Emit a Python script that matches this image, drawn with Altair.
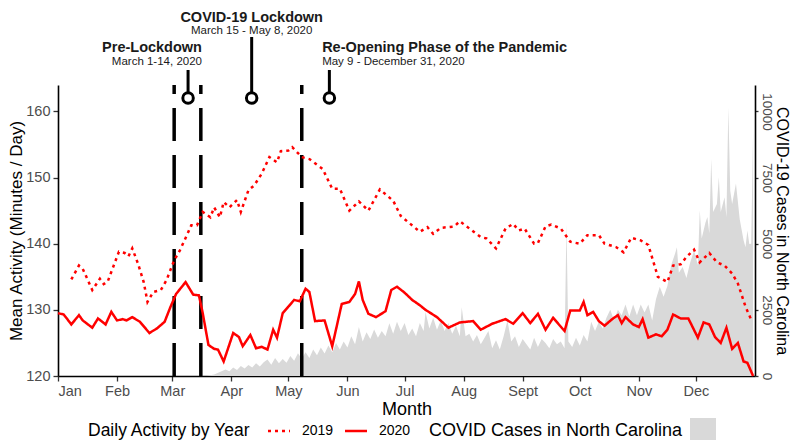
import altair as alt
import pandas as pd

# ---------------- data ----------------
months = ["Jan", "Feb", "Mar", "Apr", "May", "Jun", "Jul", "Aug", "Sept", "Oct", "Nov", "Dec"]
month_start_day = [0, 31, 60, 91, 121, 152, 182, 213, 244, 274, 305, 335]

# 2020 mean activity (day of year, minutes/day)
act_2020 = [(0, 129.5), (3, 129.3), (7, 127.8), (11, 129.2), (13, 128.4), (18, 127.3), (21, 128.7),
            (25, 127.8), (28, 129.7), (31, 128.4), (34, 128.6), (36, 128.4), (39, 128.9), (43, 128.2),
            (48, 126.5), (52, 127.2), (56, 128.2), (59, 130.4), (62, 132.4), (67, 134.2), (71, 132.3),
            (74, 132.2), (76, 129.5), (79, 124.7), (82, 124.1), (84, 124.0), (87, 122.2), (92, 126.5),
            (95, 125.9), (97, 124.5), (101, 126.2), (104, 124.2), (107, 124.4), (110, 124.0), (113, 127.0),
            (115, 125.8), (118, 129.5), (121, 130.5), (124, 131.5), (127, 131.3), (130, 133.2), (132, 132.7),
            (135, 128.3), (140, 128.4), (144, 124.5), (149, 130.9), (153, 131.2), (156, 132.4), (158, 134.3),
            (160, 131.5), (163, 129.4), (167, 128.9), (172, 129.8), (175, 133.0), (178, 133.5), (182, 132.6),
            (186, 131.5), (190, 130.7), (193, 130.0), (199, 128.9), (205, 127.3), (211, 128.1), (218, 128.3),
            (222, 127.0), (228, 127.9), (235, 128.6), (239, 127.9), (244, 129.5), (248, 128.0), (252, 129.4),
            (256, 127.0), (260, 128.8), (266, 126.8), (269, 129.9), (274, 129.9), (276, 131.2), (278, 129.2),
            (281, 129.7), (284, 128.3), (287, 127.6), (291, 128.6), (294, 129.2), (296, 128.0), (298, 128.9),
            (302, 127.8), (305, 127.4), (307, 128.6), (310, 125.8), (314, 126.3), (317, 126.0), (320, 127.0),
            (323, 129.3), (327, 128.7), (331, 128.7), (336, 125.8), (339, 128.1), (342, 127.8), (345, 125.9),
            (348, 125.0), (351, 127.3), (354, 124.1), (357, 125.0), (360, 122.2), (362, 122.0), (365, 120.0)]

# 2019 mean activity
act_2019 = [(7, 134.6), (11, 136.7), (13, 136.2), (18, 133.0), (22, 134.7), (24, 133.9), (26, 134.2),
            (32, 138.8), (35, 138.6), (37, 138.1), (39, 139.3), (42, 137.0), (45, 134.2), (47, 131.2),
            (50, 132.7), (54, 133.0), (57, 134.5), (61, 137.5), (64, 139.0), (68, 141.5), (70, 142.8),
            (73, 142.8), (76, 144.8), (80, 144.0), (82, 145.5), (85, 144.0), (87, 146.3), (90, 145.5),
            (94, 146.6), (96, 144.8), (100, 148.1), (103, 148.8), (107, 150.6), (111, 153.1), (115, 152.3),
            (117, 154.0), (121, 154.1), (123, 154.6), (128, 153.1), (132, 152.8), (139, 151.3), (144, 148.3),
            (148, 148.3), (153, 145.0), (158, 146.4), (163, 145.0), (169, 148.2), (176, 146.5), (180, 144.2),
            (185, 143.0), (190, 141.8), (194, 142.5), (197, 141.5), (201, 142.4), (208, 142.6), (211, 143.4),
            (216, 142.3), (222, 141.0), (225, 140.8), (230, 139.3), (235, 142.3), (239, 143.0), (242, 142.0),
            (245, 142.3), (250, 140.0), (252, 140.1), (256, 142.6), (259, 142.9), (264, 142.3), (269, 140.3),
            (274, 140.0), (278, 141.3), (284, 141.3), (287, 140.0), (293, 139.5), (297, 138.7), (301, 140.9),
            (306, 140.5), (310, 139.8), (315, 135.0), (320, 134.2), (323, 136.7), (327, 136.9), (330, 138.0),
            (334, 139.1), (337, 137.2), (342, 138.6), (346, 137.2), (350, 136.7), (354, 135.5), (357, 134.0),
            (361, 130.5), (364, 128.5)]

# Daily COVID-19 cases in North Carolina
cases_by_day = [(78, 0), (82, 60), (85, 150), (88, 250), (90, 180), (92, 320), (94, 230), (96, 380),
                (98, 280), (100, 420), (102, 320), (104, 480), (106, 360), (108, 520), (110, 620), (112, 430),
                (114, 680), (116, 480), (118, 640), (120, 500), (122, 760), (124, 580), (126, 860), (128, 650),
                (130, 900), (132, 680), (134, 1000), (136, 780), (138, 1080), (140, 850), (142, 1150), (144, 900),
                (146, 1250), (148, 1000), (150, 1300), (152, 1080), (154, 1500), (156, 1200), (158, 1850),
                (160, 1300), (162, 1650), (164, 1400), (166, 1760), (168, 1450), (170, 1700), (172, 1500),
                (174, 1990), (176, 1600), (178, 2050), (180, 1700), (182, 2000), (184, 1550), (186, 1800),
                (188, 1500), (190, 2000), (192, 1700), (193, 2420), (195, 1800), (197, 2200), (199, 1750),
                (201, 2100), (203, 1700), (205, 2000), (207, 1600), (209, 1900), (211, 1500), (212, 2600),
                (214, 1500), (216, 1600), (218, 1300), (220, 1550), (222, 1200), (224, 1450), (226, 1700),
                (228, 1050), (230, 1350), (232, 1000), (234, 1500), (236, 2100), (238, 1300), (240, 1500),
                (242, 1100), (244, 1400), (246, 1200), (248, 1000), (250, 1450), (252, 1100), (254, 1400),
                (256, 1250), (258, 1050), (260, 1400), (262, 1200), (264, 1300), (266, 1050), (267, 5750),
                (268, 1300), (270, 1100), (272, 1450), (274, 1150), (276, 1550), (278, 1300), (280, 2050),
                (282, 1700), (284, 2050), (286, 1800), (288, 2200), (290, 2500), (292, 2100), (294, 2500),
                (296, 2300), (298, 2700), (300, 2250), (302, 2700), (304, 2300), (306, 2700), (308, 2400),
                (310, 2700), (312, 2100), (314, 2900), (316, 3370), (318, 3000), (320, 3400), (322, 4200),
                (324, 4620), (325, 4870), (326, 3900), (328, 4120), (330, 3700), (332, 4300), (334, 4740),
                (336, 4200), (337, 6260), (338, 5200), (340, 5800), (341, 6010), (342, 5400), (343, 8200),
                (344, 6200), (346, 6500), (347, 7510), (348, 6200), (350, 6760), (351, 6000), (352, 10150),
                (353, 7000), (354, 6500), (356, 7280), (358, 5920), (360, 5130), (361, 4870), (362, 5500),
                (363, 4990), (364, 5000), (365, 9270)]

# Phase boundaries and annotations
phase_line_day = [61, 75, 128]
phase_title = ["Pre-Lockdown", "COVID-19 Lockdown", "Re-Opening Phase of the Pandemic"]
phase_sub = ["March 1-14, 2020", "March 15 - May 8, 2020", "May 9 - December 31, 2020"]
phase_marker_day = [68.3, 101.7, 142.5]
phase_label_day = [75.6, 101.7, 138.7]

# ---------------- layout constants ----------------
W, H = 697, 291
FONT = "Liberation Sans"
RED = "#ff0000"
GREY = "#d9d9d9"

# ---------------- tables ----------------
lines_df = pd.concat([
    pd.DataFrame(act_2019, columns=["day", "act"]).assign(year="2019"),
    pd.DataFrame(act_2020, columns=["day", "act"]).assign(year="2020"),
])
cases_df = pd.DataFrame(cases_by_day, columns=["day", "cases"])
vline_df = pd.DataFrame({"day": phase_line_day})
phase_df = pd.DataFrame({
    "marker": phase_marker_day,
    "label_day": phase_label_day,
    "title": phase_title,
    "sub": phase_sub,
    "stem_top": [-15, -48, -15],
    "title_y": [-37, -67, -37],
    "sub_y": [-23, -54, -23],
    "align": ["right", "center", "left"],
})

x_scale = alt.Scale(domain=[0, 366], nice=False, zero=False)
days_js = "[" + ",".join(str(d) for d in month_start_day) + "]"
months_js = "[" + ",".join("'" + m + "'" for m in months) + "]"

x_enc = alt.X(
    "day:Q", scale=x_scale,
    axis=alt.Axis(values=month_start_day, labelExpr=f"{months_js}[indexof({days_js}, datum.value)]",
                  title="Month", tickSize=5, labelPadding=3, titlePadding=3),
)

area = alt.Chart(cases_df).mark_area(color=GREY, opacity=1, interpolate="linear").encode(
    x=x_enc,
    y=alt.Y("cases:Q", scale=alt.Scale(domain=[0, 11000], nice=False),
            axis=alt.Axis(orient="right", values=[0, 2500, 5000, 7500, 10000], format="d",
                          labelAngle=90, labelAlign="center", labelBaseline="bottom",
                          tickSize=3, labelPadding=1, titlePadding=0, labelFontSize=13.5,
                          titleFontSize=16,
                          title="COVID-19 Cases in North Carolina", titleAngle=90)),
)

vlines = alt.Chart(vline_df).mark_rule(color="black", strokeWidth=3.5, strokeDash=[33, 14]).encode(
    x=alt.X("day:Q", scale=x_scale), y=alt.value(H), y2=alt.value(0)
)

lines = alt.Chart(lines_df).mark_line(color=RED, strokeWidth=2.5).encode(
    x=alt.X("day:Q", scale=x_scale),
    y=alt.Y("act:Q", scale=alt.Scale(domain=[120, 164], nice=False, zero=False),
            axis=alt.Axis(orient="left", values=[120, 130, 140, 150, 160], tickSize=5,
                          labelPadding=3, titlePadding=0, titleFontSize=17,
                          title="Mean Activity (Minutes / Day)")),
    strokeDash=alt.StrokeDash("year:N", scale=alt.Scale(domain=["2019", "2020"], range=[[3, 4], [1, 0]]),
                              legend=None),
    detail="year:N",
)

stems = alt.Chart(phase_df).mark_rule(color="black", strokeWidth=3).encode(
    x=alt.X("marker:Q", scale=x_scale),
    y=alt.Y("stem_top:Q", scale=None, axis=None),
    y2=alt.value(13),
)

circles = alt.Chart(phase_df).mark_point(shape="circle", filled=True, fill="white", stroke="black",
                                         strokeWidth=3, size=110, opacity=1).encode(
    x=alt.X("marker:Q", scale=x_scale), y=alt.value(13)
)

text_layers = []
for al in ["right", "center", "left"]:
    sub = phase_df[phase_df["align"] == al]
    text_layers.append(
        alt.Chart(sub).mark_text(align=al, baseline="middle", font=FONT, fontSize=14.5,
                                 fontWeight="bold", color="#1a1a1a").encode(
            x=alt.X("label_day:Q", scale=x_scale),
            y=alt.Y("title_y:Q", scale=None, axis=None),
            text="title:N")
    )
    text_layers.append(
        alt.Chart(sub).mark_text(align=al, baseline="middle", font=FONT, fontSize=11.5,
                                 color="#1a1a1a").encode(
            x=alt.X("label_day:Q", scale=x_scale),
            y=alt.Y("sub_y:Q", scale=None, axis=None),
            text="sub:N")
    )

# ---------------- manual legend (bottom) ----------------
LEG_Y = 346
leg_text = alt.Chart(pd.DataFrame({"t": ["Daily Activity by Year"]})).mark_text(
    align="left", baseline="middle", font=FONT, fontSize=17.5, color="black").encode(
    text="t:N", x=alt.value(30), y=alt.value(LEG_Y))
leg_2019_line = alt.Chart(pd.DataFrame({"t": ["2019"]})).mark_rule(
    color=RED, strokeWidth=2.5, strokeDash=[3, 4]).encode(
    x=alt.value(210), x2=alt.value(232), y=alt.value(LEG_Y))
leg_2019_text = alt.Chart(pd.DataFrame({"t": ["2019"]})).mark_text(
    align="left", baseline="middle", font=FONT, fontSize=14, color="black").encode(
    text="t:N", x=alt.value(244), y=alt.value(LEG_Y))
leg_2020_line = alt.Chart(pd.DataFrame({"t": ["2020"]})).mark_rule(
    color=RED, strokeWidth=2.5).encode(
    x=alt.value(287), x2=alt.value(309), y=alt.value(LEG_Y))
leg_2020_text = alt.Chart(pd.DataFrame({"t": ["2020"]})).mark_text(
    align="left", baseline="middle", font=FONT, fontSize=14, color="black").encode(
    text="t:N", x=alt.value(321), y=alt.value(LEG_Y))
leg_cases_text = alt.Chart(pd.DataFrame({"t": ["COVID Cases in North Carolina"]})).mark_text(
    align="left", baseline="middle", font=FONT, fontSize=18, color="black").encode(
    text="t:N", x=alt.value(371), y=alt.value(LEG_Y))
leg_cases_box = alt.Chart(pd.DataFrame({"t": ["box"]})).mark_rect(color=GREY).encode(
    x=alt.value(632), x2=alt.value(658), y=alt.value(LEG_Y - 13), y2=alt.value(LEG_Y + 11))

chart = alt.layer(
    area, vlines, lines, stems, circles, *text_layers,
    leg_text, leg_2019_line, leg_2019_text, leg_2020_line, leg_2020_text, leg_cases_text, leg_cases_box,
).resolve_scale(y="independent").properties(
    width=W, height=H,
    autosize=alt.AutoSizeParams(type="none"),
    padding={"left": 50, "top": 77, "right": 37, "bottom": 64},
).configure_view(stroke=None).configure_axis(
    grid=False, domainColor="black", domainWidth=1.6, tickColor="#333333", tickWidth=1.3,
    labelColor="#4d4d4d", labelFont=FONT, labelFontSize=14.5,
    titleFont=FONT, titleFontSize=18, titleColor="black", titleFontWeight="normal",
)

chart.save("out.html", embed_options={"renderer": "svg", "actions": False})
